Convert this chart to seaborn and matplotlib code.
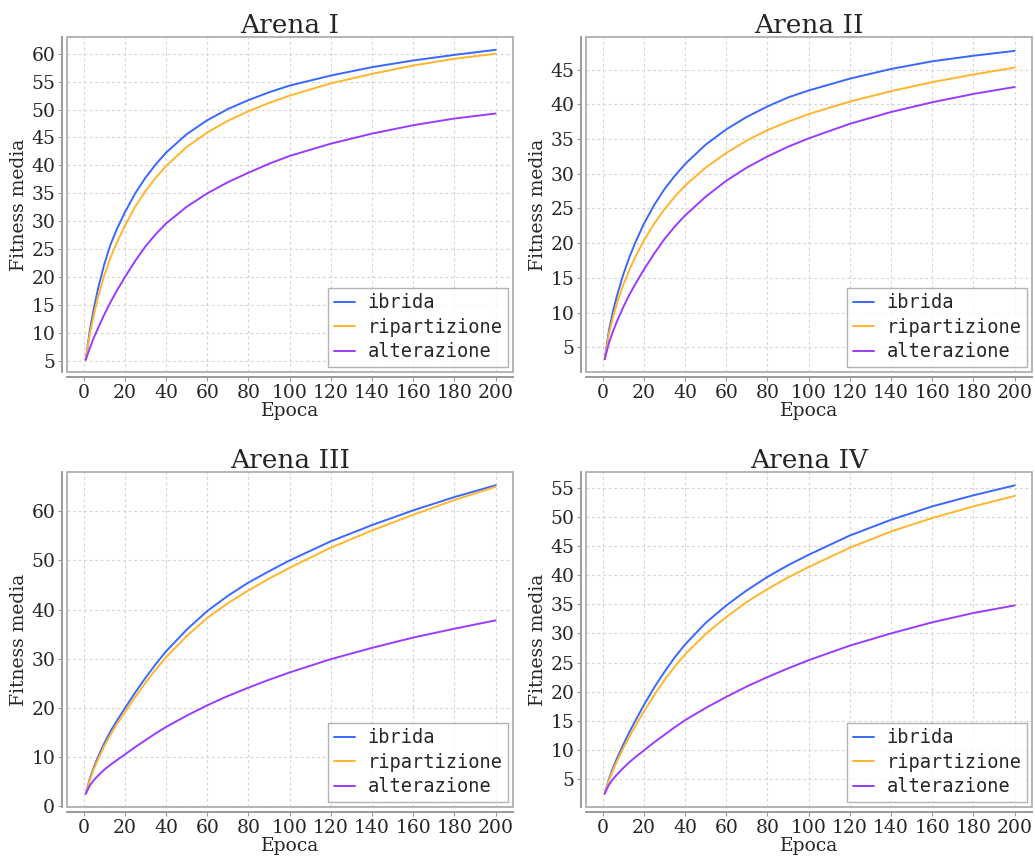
import numpy as np
import pandas as pd
import matplotlib
matplotlib.use("Agg")
import matplotlib.pyplot as plt
import seaborn as sns
from matplotlib.patches import Rectangle

# epochs sampled along the curves
epoche = [1, 3, 5, 7, 10, 13, 16, 20, 25, 30, 35, 40, 50, 60, 70, 80, 90, 100, 120, 140, 160, 180, 200]
strategie = ["ibrida", "ripartizione", "alterazione"]
colori = ["#3a68ff", "#ffb52e", "#9a3cff"]

# Arena I
a1_ibrida = [5.2, 10.5, 14.5, 18.0, 22.3, 25.8, 28.5, 31.6, 35.0, 37.8, 40.2, 42.3, 45.6, 48.1, 50.1, 51.7, 53.1, 54.3, 56.1, 57.6, 58.8, 59.8, 60.7]
a1_ripart = [5.2, 9.8, 13.3, 16.5, 20.3, 23.5, 26.1, 29.2, 32.6, 35.4, 37.8, 39.9, 43.3, 45.9, 48.0, 49.7, 51.2, 52.5, 54.7, 56.4, 57.9, 59.1, 60.0]
a1_alter = [5.2, 7.3, 9.2, 10.9, 13.3, 15.5, 17.5, 20.0, 22.9, 25.5, 27.7, 29.6, 32.6, 35.0, 37.0, 38.7, 40.3, 41.7, 43.9, 45.7, 47.2, 48.4, 49.3]

# Arena II
a2_ibrida = [3.3, 7.4, 10.2, 12.5, 15.5, 18.0, 20.2, 22.8, 25.5, 27.8, 29.7, 31.4, 34.2, 36.4, 38.2, 39.7, 41.0, 42.0, 43.7, 45.1, 46.2, 47.0, 47.7]
a2_ripart = [3.3, 6.9, 9.3, 11.4, 14.0, 16.2, 18.1, 20.4, 22.8, 24.9, 26.7, 28.3, 30.9, 33.0, 34.8, 36.3, 37.5, 38.6, 40.4, 41.9, 43.2, 44.3, 45.3]
a2_alter = [3.3, 5.6, 7.3, 8.8, 10.8, 12.6, 14.2, 16.2, 18.5, 20.6, 22.4, 24.0, 26.7, 29.0, 30.9, 32.5, 33.9, 35.1, 37.2, 38.9, 40.3, 41.5, 42.5]

# Arena III
a3_ibrida = [2.5, 5.6, 8.0, 10.0, 12.8, 15.2, 17.3, 19.9, 23.1, 26.1, 28.9, 31.5, 35.9, 39.7, 42.8, 45.5, 47.8, 50.0, 53.9, 57.2, 60.2, 62.9, 65.3]
a3_ripart = [2.5, 5.3, 7.6, 9.5, 12.2, 14.5, 16.6, 19.1, 22.2, 25.1, 27.8, 30.3, 34.6, 38.3, 41.3, 43.9, 46.3, 48.5, 52.6, 56.1, 59.3, 62.3, 65.0]
a3_alter = [2.5, 4.2, 5.3, 6.2, 7.4, 8.4, 9.3, 10.5, 12.0, 13.4, 14.8, 16.1, 18.4, 20.5, 22.4, 24.1, 25.7, 27.2, 29.9, 32.2, 34.3, 36.1, 37.8]

# Arena IV
a4_ibrida = [2.5, 5.0, 6.9, 8.6, 10.9, 13.1, 15.1, 17.7, 20.7, 23.4, 25.9, 28.1, 31.8, 34.8, 37.4, 39.7, 41.7, 43.5, 46.8, 49.5, 51.8, 53.7, 55.4]
a4_ripart = [2.5, 4.8, 6.5, 8.1, 10.3, 12.3, 14.2, 16.6, 19.4, 22.0, 24.3, 26.4, 29.9, 32.8, 35.4, 37.6, 39.6, 41.4, 44.7, 47.5, 49.8, 51.8, 53.6]
a4_alter = [2.5, 4.0, 5.0, 5.8, 6.9, 7.9, 8.8, 9.9, 11.3, 12.6, 13.9, 15.1, 17.2, 19.1, 20.9, 22.5, 24.0, 25.4, 27.9, 30.0, 31.9, 33.5, 34.8]

titoli = ["Arena I", "Arena II", "Arena III", "Arena IV"]
serie = [
    (a1_ibrida, a1_ripart, a1_alter),
    (a2_ibrida, a2_ripart, a2_alter),
    (a3_ibrida, a3_ripart, a3_alter),
    (a4_ibrida, a4_ripart, a4_alter),
]
yticks = [np.arange(5, 61, 5), np.arange(5, 46, 5), np.arange(0, 61, 10), np.arange(5, 56, 5)]
ylims = [(3.0, 63.0), (1.45, 49.7), (-0.2, 68.0), (0.2, 57.7)]

sns.set_style("white")
plt.rcParams["font.family"] = ["DejaVu Serif"]

W, H = 1035, 859
fig = plt.figure(figsize=(W / 100, H / 100), dpi=100)

# plot area boxes in pixels: left, top, right, bottom
boxes = [(67, 37, 513, 372), (586, 37, 1032, 372), (67, 472, 513, 807), (586, 472, 1032, 807)]

for i in range(4):
    l, t, r, b = boxes[i]
    ax = fig.add_axes([l / W, 1 - b / H, (r - l) / W, (b - t) / H])
    df = pd.DataFrame({
        "Epoca": epoche * 3,
        "Fitness media": serie[i][0] + serie[i][1] + serie[i][2],
        "strategia": sum([[s] * len(epoche) for s in strategie], []),
    })
    sns.lineplot(data=df, x="Epoca", y="Fitness media", hue="strategia",
                 hue_order=strategie, palette=colori, linewidth=1.4, ax=ax)

    ax.set_xlim(-8.1, 208.4)
    ax.set_ylim(*ylims[i])
    ax.set_xticks(np.arange(0, 201, 20))
    ax.set_yticks(yticks[i])
    ax.grid(True, color="#d4d4d4", linestyle=(0, (2.5, 2.5)), linewidth=0.8)
    ax.set_axisbelow(True)

    for side in ["top", "right"]:
        ax.spines[side].set_visible(False)
    for side in ["left", "bottom"]:
        ax.spines[side].set_position(("outward", 3.5))
        ax.spines[side].set_color("#9a9a9a")
        ax.spines[side].set_linewidth(1.4)
    ax.add_patch(Rectangle((0, 0), 1, 1, transform=ax.transAxes, fill=False,
                           edgecolor="#a8a8a8", linewidth=1.2, clip_on=False, zorder=5))
    ax.tick_params(axis="both", direction="out", length=3, width=0.8, color="#9a9a9a",
                   labelsize=13.5, pad=2, left=True, bottom=True)

    ax.set_title(titoli[i], fontsize=19, pad=3)
    ax.set_xlabel("Epoca", fontsize=13.5, labelpad=0)
    ax.set_ylabel("Fitness media", fontsize=13.5, labelpad=2)

    leg = ax.legend(loc="lower right", frameon=True, fancybox=False, borderaxespad=0.27,
                    borderpad=0.3, handlelength=1.15, handletextpad=0.65, labelspacing=0.3,
                    prop={"family": "DejaVu Sans Mono", "size": 13.4})
    leg.get_frame().set_edgecolor("#a0a0a0")
    leg.get_frame().set_linewidth(1.0)

fig.savefig("out.png", dpi=100)
